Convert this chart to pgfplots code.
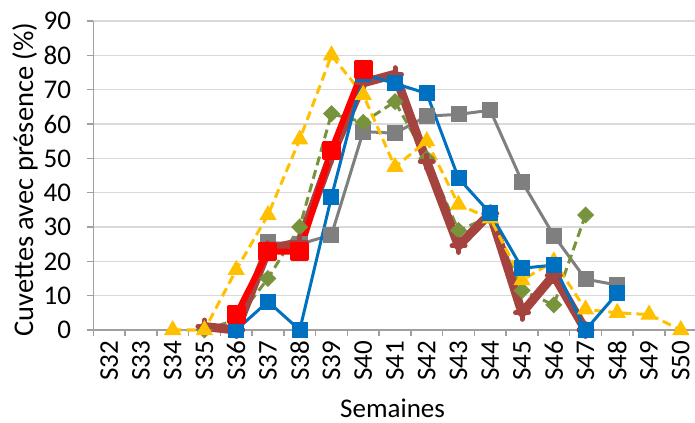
\documentclass[border=0pt]{standalone}
\usepackage{fontspec}
\setmainfont{Carlito}
\usepackage{pgfplots}
\pgfplotsset{compat=1.18}
\definecolor{cgray}{HTML}{7F7F7F}
\definecolor{cblue}{HTML}{0070C0}
\definecolor{cyellow}{HTML}{FFC000}
\definecolor{cgreen}{HTML}{77933C}
\definecolor{cbrown}{HTML}{A5433F}
\definecolor{cred}{HTML}{FF0000}
\definecolor{axgray}{HTML}{A0A0A0}
\definecolor{gridgray}{HTML}{D9D9D9}
\begin{document}
\begin{tikzpicture}
\begin{axis}[
  at={(93.3bp,93bp)}, anchor=south west,
  scale only axis, width=603.4bp, height=309bp,
  xmin=-0.5, xmax=18.5, ymin=0, ymax=90,
  ytick={0,10,...,90},
  xtick={0,...,18},
  xticklabels={S32,S33,S34,S35,S36,S37,S38,S39,S40,S41,S42,S43,S44,S45,S46,S47,S48,S49,S50},
  minor xtick={-0.5,0.5,...,18.5},
  axis x line*=bottom, axis y line*=left,
  axis line style={draw=axgray, line width=1.5bp, -},
  tick align=outside,
  major tick length=6bp, minor tick length=6bp,
  every major x tick/.append style={draw=none},
  tick style={draw=axgray, line width=1.5bp},
  ymajorgrids, major grid style={draw=gridgray, line width=1.5bp},
  clip=false,
  /pgf/number format/assume math mode=true,
  tick label style={font=\fontsize{27bp}{31bp}\selectfont, text=black},
  label style={font=\fontsize{27bp}{31bp}\selectfont, text=black},
  yticklabel style={anchor=east, inner sep=0pt, xshift=-16bp},
  xticklabel style={rotate=90, anchor=east, inner sep=0pt, yshift=0bp, xshift=-5bp},
  ylabel={Cuvettes avec présence (\%)},
  ylabel style={at={(axis description cs:-0.113,0.487)}, anchor=center, rotate=0, font=\fontsize{28.5bp}{32bp}\selectfont},
  xlabel={Semaines},
  xlabel style={at={(axis description cs:0.496,-0.254)}, anchor=center},
]
\addplot[cgray, line width=3bp, mark=square*, mark size=6.5bp] coordinates {
 (5,25.5) (6,25) (7,27.7) (8,57.8) (9,57.3) (10,62.3) (11,62.8) (12,64) (13,43.2) (14,27.5) (15,14.8) (16,13.1)};
\addplot[cgreen, line width=3bp, dash pattern=on 9bp off 5bp, mark=square*, mark size=5.5bp, mark options={solid, line width=1bp, rotate=45}] coordinates {
 (3,0) (4,3) (5,15) (6,30) (7,63) (8,60.5) (9,66.5) (10,50) (11,29) (12,33) (13,11.5) (14,7.3) (15,33.5)};
\addplot[cbrown, line width=9bp, line join=round, line cap=round, mark=+, mark size=6.5bp, mark options={line width=5bp}] coordinates {
 (3,1) (4,0) (5,23.5) (6,25.5) (7,51) (8,72) (9,74.5) (10,49) (11,24.5) (12,34) (13,5) (14,16) (15,0)};
\addplot[cyellow, line width=3bp, dash pattern=on 9bp off 5bp, mark=triangle*, mark size=9bp, mark options={solid, line width=1bp}] coordinates {
 (2,0) (3,0) (4,17.5) (5,33.5) (6,55.5) (7,80) (8,68.5) (9,47.5) (10,55) (11,36.5) (12,32.5) (13,14.5) (14,20) (15,6) (16,5) (17,4.5) (18,0)};
\addplot[cblue, line width=3bp, mark=square*, mark size=6.5bp] coordinates {
 (4,0) (5,8.3) (6,0) (7,38.8) (8,74.5) (9,71.8) (10,68.9) (11,44.2) (12,34) (13,18) (14,18.9) (15,0) (16,10.7)};
\addplot[cred, line width=6bp, line join=round, mark=square*, mark size=8bp, mark options={line width=3bp, line join=round}] coordinates {
 (4,4.4) (5,22.8) (6,22.8) (7,52.4) (8,76)};
\end{axis}
\pgfresetboundingbox
\path[use as bounding box] (0,0) rectangle (695bp,423bp);
\end{tikzpicture}
\end{document}
